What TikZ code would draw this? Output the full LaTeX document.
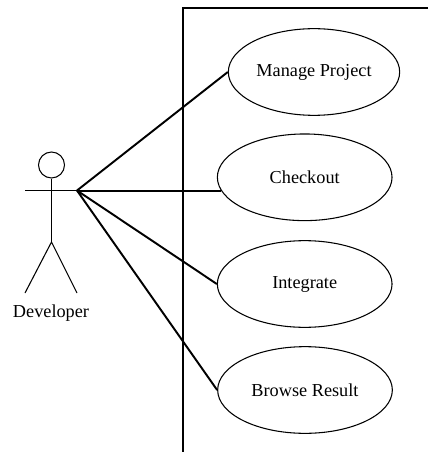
\documentclass[tikz,border=0pt]{standalone}
\usepackage{fontspec}
\setmainfont{Liberation Serif}
\usetikzlibrary{shapes.geometric}
\tikzset{
  usecase/.style={draw=black,ellipse,line width=0.8pt,minimum width=131pt,minimum height=65pt,inner sep=0pt,font=\fontsize{13.7}{16}\selectfont},
  assoc/.style={draw=black,line width=1.45pt},
  flat/.style={draw=black,line width=1.5pt},
  wall/.style={draw=black,line width=1.5pt},
  stick/.style={draw=black,line width=0.8pt},
  lbl/.style={font=\fontsize{13.7}{16}\selectfont,inner sep=0pt}
}
\begin{document}
\begin{tikzpicture}[x=0.75pt,y=-0.75pt]
\useasboundingbox (0,0) rectangle (428,452);
\draw[wall] (428,8) -- (182.5,8) -- (182.5,452);
\node[usecase,minimum width=128.5pt] (manage) at (314,72) {Manage Project};
\node[usecase] (checkout) at (304.7,177.3) {Checkout};
\node[usecase] (integrate) at (304.7,284) {Integrate};
\node[usecase] (browse) at (305,390) {Browse Result};
\node[draw=black,circle,line width=0.8pt,minimum size=19.5pt,inner sep=0pt] (head) at (51.5,165) {};
\coordinate (hip) at (51.5,242);
\coordinate (lhand) at (25,190.5);
\coordinate (rhand) at (77,190.5);
\coordinate (lfoot) at (25,293);
\coordinate (rfoot) at (77,293);
\draw[stick] (head.south) -- (hip);
\draw[stick] (lhand) -- (rhand);
\draw[stick] (lfoot) -- (hip) -- (rfoot);
\node[lbl] (dev) at (51,313) {Developer};
\draw[assoc] (rhand) -- (manage.west);
\draw[flat] (rhand) -- (checkout.189 |- rhand);
\draw[assoc] (rhand) -- (integrate.west);
\draw[assoc] (rhand) -- (browse.west);
\end{tikzpicture}
\end{document}
